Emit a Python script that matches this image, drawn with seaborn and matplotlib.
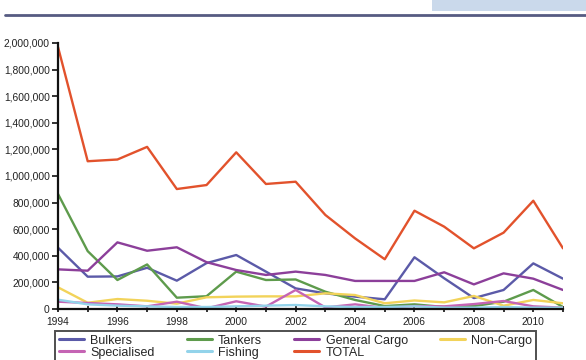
import matplotlib
matplotlib.use("Agg")
import matplotlib.pyplot as plt
from matplotlib.lines import Line2D
from matplotlib.patches import Rectangle
from matplotlib.ticker import FuncFormatter, MultipleLocator
import numpy as np
import pandas as pd
import seaborn as sns

# Annual figures, 1994-2011
years = list(range(1994, 2012))
bulkers = [461000, 243000, 245000, 310000, 213000, 345000, 406000, 281000, 155000, 118000,
           93000, 73000, 389000, 231000, 82000, 143000, 343000, 228000]
tankers = [865000, 435000, 218000, 335000, 85000, 96000, 281000, 218000, 222000, 130000,
           68000, 22000, 35000, 15000, 22000, 55000, 143000, 15000]
general_cargo = [298000, 288000, 501000, 438000, 464000, 352000, 293000, 256000, 281000, 256000,
                 211000, 211000, 211000, 276000, 185000, 268000, 228000, 143000]
non_cargo = [163000, 47000, 75000, 62000, 40000, 88000, 93000, 95000, 95000, 118000,
             105000, 43000, 64000, 50000, 98000, 25000, 68000, 43000]
specialised = [55000, 45000, 35000, 20000, 55000, 5000, 58000, 18000, 143000, 12000,
               35000, 8000, 22000, 20000, 37000, 60000, 20000, 10000]
fishing = [70000, 35000, 25000, 20000, 15000, 15000, 20000, 25000, 30000, 20000,
           15000, 15000, 20000, 10000, 10000, 15000, 10000, 10000]
total = [1970000, 1111000, 1124000, 1219000, 902000, 932000, 1178000, 940000, 957000, 707000,
         531000, 374000, 739000, 619000, 456000, 574000, 814000, 456000]

series_names = ["Bulkers", "Tankers", "General Cargo", "Non-Cargo", "Specialised", "Fishing", "TOTAL"]
series_values = [bulkers, tankers, general_cargo, non_cargo, specialised, fishing, total]
colors = ["#5b5aa8", "#5e9b4c", "#8c3f9a", "#f2d35a", "#c564b4", "#93d3ea", "#e2522c"]

df = pd.DataFrame({
    "Year": np.tile(years, len(series_names)),
    "Series": np.repeat(series_names, len(years)),
    "Value": np.concatenate(series_values),
})

sns.set_style("white")
plt.rcParams["font.family"] = ["Liberation Sans", "DejaVu Sans"]

fig = plt.figure(figsize=(5.86, 3.60), dpi=100)
ax = fig.add_axes([58 / 586, 1 - 309 / 360, (563 - 58) / 586, (309 - 43) / 360])

sns.lineplot(data=df, x="Year", y="Value", hue="Series", hue_order=series_names,
             palette=colors, linewidth=1.7, ax=ax)

ax.set_xlim(1994, 2011)
ax.set_ylim(0, 2000000)
ax.set_xlabel("")
ax.set_ylabel("")

ax.yaxis.set_major_locator(MultipleLocator(200000))
ax.yaxis.set_major_formatter(FuncFormatter(lambda v, p: f"{int(v):,}"))
ax.xaxis.set_major_locator(MultipleLocator(2))
ax.xaxis.set_minor_locator(MultipleLocator(1))
ax.xaxis.set_major_formatter(FuncFormatter(lambda v, p: f"{int(v)}"))

for side in ("top", "right"):
    ax.spines[side].set_visible(False)
for side in ("left", "bottom"):
    ax.spines[side].set_color("#111111")
    ax.spines[side].set_linewidth(1.6)

ax.tick_params(axis="y", which="major", direction="out", length=4, width=1.2,
               color="#111111", labelsize=7.4, labelcolor="#222222", pad=2, left=True)
ax.tick_params(axis="x", which="both", direction="inout", length=5, width=1.2,
               color="#111111", labelsize=7.4, labelcolor="#222222", pad=3, bottom=True)

# legend reads row by row: four entries on top, three below
handles, labels = ax.get_legend_handles_labels()
ax.get_legend().remove()
lookup = dict(zip(labels, handles))
order = ["Bulkers", "Specialised", "Tankers", "Fishing", "General Cargo", "TOTAL", "Non-Cargo"]
leg = fig.legend([lookup[k] for k in order], order, loc="upper left",
                 bbox_to_anchor=(55 / 586, 1 - 331 / 360, (536 - 55) / 586, 0),
                 mode="expand", ncol=4, fontsize=9.0, frameon=True, fancybox=False,
                 edgecolor="#222222", handlelength=2.0, handletextpad=0.5,
                 labelspacing=0.0, borderpad=0.3, borderaxespad=0.0)
leg.get_frame().set_linewidth(1.4)
for line in leg.get_lines():
    line.set_linewidth(2.2)

# page header rule and tab
fig.add_artist(Line2D([5 / 586, 1.0], [1 - 15 / 360, 1 - 15 / 360], color="#565b82",
                      linewidth=2.0, transform=fig.transFigure))
fig.add_artist(Rectangle((432 / 586, 1 - 11 / 360), 1 - 432 / 586, 11 / 360,
                         facecolor="#cad9eb", edgecolor="none", transform=fig.transFigure))

fig.savefig("out.png", dpi=100)
